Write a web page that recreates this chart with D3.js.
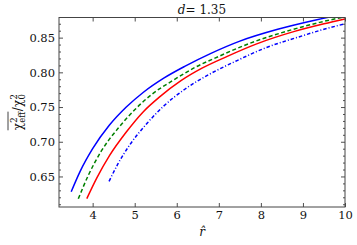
<!DOCTYPE html>
<html>
<head>
<meta charset="utf-8">
<script src="https://d3js.org/d3.v7.min.js"></script>
<style>
    body { margin: 0; background: #fff; }
    text { font-family: "DejaVu Serif", serif; }
</style>
</head>
<body>
<div id="chart"></div>
<script>
// values
const rBlue   = [3.49, 3.70, 4.00, 4.40, 4.80, 5.20, 5.70, 6.20, 6.80, 7.50, 8.40, 9.20, 10.0];
const chiBlue = [0.628, 0.657, 0.690, 0.724, 0.750, 0.771, 0.792, 0.809, 0.827, 0.845, 0.862, 0.874, 0.884];

const rGreen   = [3.66, 3.90, 4.20, 4.60, 5.00, 5.40, 5.90, 6.40, 7.00, 7.70, 8.60, 9.40, 10.0];
const chiGreen = [0.618, 0.652, 0.686, 0.719, 0.746, 0.768, 0.788, 0.806, 0.823, 0.841, 0.859, 0.872, 0.880];

const rRed   = [3.86, 4.10, 4.40, 4.80, 5.20, 5.60, 6.10, 6.60, 7.20, 7.90, 8.80, 9.50, 10.0];
const chiRed = [0.618, 0.648, 0.680, 0.714, 0.743, 0.765, 0.788, 0.806, 0.823, 0.841, 0.859, 0.870, 0.877];

const rDashDot   = [4.39, 4.60, 4.90, 5.30, 5.70, 6.20, 6.80, 7.40, 8.10, 8.90, 9.50, 10.0];
const chiDashDot = [0.643, 0.668, 0.697, 0.727, 0.752, 0.776, 0.798, 0.816, 0.835, 0.851, 0.862, 0.870];

const xTicks = [4, 5, 6, 7, 8, 9, 10];
const yTicks = [0.65, 0.70, 0.75, 0.80, 0.85];

class ChiPlot {
    constructor(_parentElement) {
        this.parentElement = _parentElement;
        this.initVis();
    }

    initVis() {
        let vis = this;
        vis.margin = { top: 17.5, right: 12, bottom: 38, left: 59 };
        vis.width = 357 - vis.margin.left - vis.margin.right;
        vis.height = 245 - vis.margin.top - vis.margin.bottom;

        vis.svg = d3.select("#" + vis.parentElement).append("svg")
            .attr("width", 357)
            .attr("height", 245)
            .append("g")
            .attr("transform", "translate(" + vis.margin.left + "," + vis.margin.top + ")");

        vis.x = d3.scaleLinear().domain([3.2, 10]).range([0, vis.width]);
        vis.y = d3.scaleLinear().domain([0.606, 0.879]).range([vis.height, 0]);

        vis.series = [
            { r: rBlue, v: chiBlue, color: "#0000ff", dash: null },
            { r: rGreen, v: chiGreen, color: "#008000", dash: "4,2.5" },
            { r: rRed, v: chiRed, color: "#ff0000", dash: null },
            { r: rDashDot, v: chiDashDot, color: "#0000ff", dash: "3.5,2,1,2" }
        ];

        vis.updateVis();
    }

    updateVis() {
        let vis = this;

        vis.svg.append("clipPath").attr("id", "plotclip")
            .append("rect").attr("width", vis.width).attr("height", vis.height);

        let line = d3.line()
            .x(d => vis.x(d[0]))
            .y(d => vis.y(d[1]))
            .curve(d3.curveMonotoneX);

        vis.svg.append("g").attr("clip-path", "url(#plotclip)")
            .selectAll("path")
            .data(vis.series)
            .enter().append("path")
            .attr("d", s => line(s.r.map((r, i) => [r, s.v[i]])))
            .attr("fill", "none")
            .attr("stroke", s => s.color)
            .attr("stroke-width", 1.5)
            .attr("stroke-dasharray", s => s.dash);

        // minor y ticks every 0.01
        let yMinor = d3.range(61, 88).map(d => d / 100).filter(d => Math.round(d * 100) % 5 !== 0);

        let fmt = d3.format(".2f");
        let axes = [
            d3.axisBottom(vis.x).tickValues(xTicks).tickSize(-4).tickPadding(3.5).tickFormat(d3.format("d")),
            d3.axisLeft(vis.y).tickValues(yTicks).tickSize(-4).tickPadding(4).tickFormat(fmt),
            d3.axisLeft(vis.y).tickValues(yMinor).tickSize(-2).tickFormat(""),
            d3.axisTop(vis.x).tickValues(xTicks).tickSize(-4).tickFormat(""),
            d3.axisRight(vis.y).tickValues(yTicks).tickSize(-4).tickFormat(""),
            d3.axisRight(vis.y).tickValues(yMinor).tickSize(-2).tickFormat("")
        ];
        let offsets = ["translate(0," + vis.height + ")", null, null, null,
            "translate(" + vis.width + ",0)", "translate(" + vis.width + ",0)"];

        axes.forEach((a, i) => {
            let g = vis.svg.append("g").attr("transform", offsets[i]).call(a);
            g.select(".domain").remove();
            g.selectAll("line").attr("stroke", "#222").attr("stroke-width", 0.8);
            g.selectAll("text").attr("font-size", 11.5).attr("fill", "#111")
                .attr("font-family", "DejaVu Serif");
        });

        vis.svg.append("rect")
            .attr("width", vis.width).attr("height", vis.height)
            .attr("fill", "none").attr("stroke", "#444").attr("stroke-width", 1);

        // title
        let title = vis.svg.append("text")
            .attr("x", vis.width / 2).attr("y", -4)
            .attr("text-anchor", "middle").attr("font-size", 12).attr("fill", "#111");
        title.append("tspan").attr("font-style", "italic").text("d");
        title.append("tspan").text("= 1.35");

        // x label
        vis.svg.append("text")
            .attr("x", vis.width / 2).attr("y", vis.height + 29)
            .attr("text-anchor", "middle").attr("font-size", 12).attr("font-style", "italic")
            .attr("fill", "#111")
            .text("r\u0302");

        // y label, rotated
        let yl = d3.select("#" + vis.parentElement).select("svg").append("g")
            .attr("transform", "translate(22,112) rotate(-90)");
        let pieces = [
            { t: "χ", size: 12, dy: 0 },
            { t: "2", size: 8.5, dy: -5.5, stack: true },
            { t: "eff", size: 8.5, dy: 3 },
            { t: "/", size: 12, dy: 0 },
            { t: "χ", size: 12, dy: 0 },
            { t: "2", size: 8.5, dy: -5.5, stack: true },
            { t: "0", size: 8.5, dy: 3 }
        ];
        let pos = 0, items = [];
        pieces.forEach(p => {
            let el = yl.append("text")
                .attr("x", pos).attr("y", p.dy)
                .attr("font-size", p.size).attr("fill", "#111")
                .text(p.t);
            let w = el.node().getComputedTextLength();
            items.push({ el: el, x: pos, w: w });
            if (!p.stack) pos += w + 0.3;
        });
        yl.attr("transform", "translate(22," + (112 + pos / 2) + ") rotate(-90)");
        let barEnd = items[2].x + items[2].w;
        yl.append("line")
            .attr("x1", 0).attr("x2", barEnd)
            .attr("y1", -14).attr("y2", -14)
            .attr("stroke", "#111").attr("stroke-width", 0.8);
    }
}

new ChiPlot("chart");
</script>
</body>
</html>
